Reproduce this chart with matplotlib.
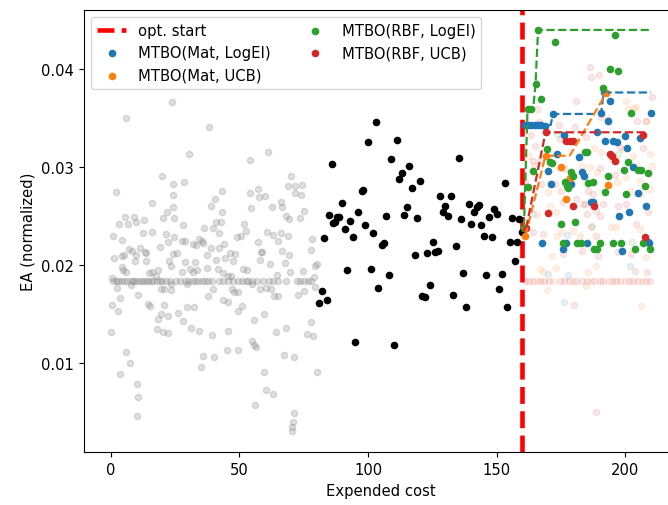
import matplotlib
matplotlib.use("Agg")
import matplotlib.pyplot as plt
import numpy as np

plt.rcParams["font.family"] = "DejaVu Sans"
plt.rcParams["font.size"] = 10.6

OPT_START = 160

# Initial design: cheap (low-fidelity) evaluations
init_low_pts = [
    (23.7, 0.03667), (5.8, 0.03497), (19.8, 0.02911), (24.3, 0.02827), (1.9, 0.02742), (24.3, 0.02714),
    (16.2, 0.02633), (24.0, 0.02589), (21.7, 0.02544), (5.5, 0.02487), (9.0, 0.02487), (3.2, 0.02418),
    (6.8, 0.02418), (9.7, 0.02442), (13.0, 0.02459), (20.4, 0.0248), (24.7, 0.02476), (1.0, 0.02293),
    (4.2, 0.02259), (12.7, 0.02327), (15.9, 0.0234), (21.3, 0.02313), (24.6, 0.02286), (22.1, 0.02231),
    (19.1, 0.02187), (7.2, 0.02163), (8.4, 0.02146), (11.2, 0.02173), (13.3, 0.0213), (9.9, 0.02105),
    (13.6, 0.0212), (1.4, 0.02068), (4.2, 0.02095), (5.0, 0.02102), (9.4, 0.02044), (13.6, 0.02044),
    (24.0, 0.02112), (22.6, 0.02041), (23.4, 0.01993), (4.2, 0.01976), (4.9, 0.01952), (5.8, 0.01925),
    (18.5, 0.01952), (14.9, 0.01918), (16.2, 0.01932), (17.4, 0.01891), (0.4, 0.01864), (7.9, 0.01796),
    (23.4, 0.01806), (2.3, 0.01762), (19.5, 0.01755), (20.8, 0.01755), (23.4, 0.01748), (3.5, 0.0166),
    (10.7, 0.01694), (0.6, 0.01592), (2.7, 0.01534), (14.3, 0.01602), (15.2, 0.01585), (20.8, 0.01592),
    (19.5, 0.015), (18.5, 0.01449), (22.1, 0.01483), (0.1, 0.0132), (17.8, 0.01347), (20.2, 0.0132),
    (22.4, 0.01303), (5.8, 0.01116), (7.5, 0.01), (3.6, 0.00884), (10.1, 0.00786), (10.7, 0.00656),
    (10.3, 0.00463),
    (38.3, 0.03411), (30.4, 0.0313), (54.1, 0.03071), (28.5, 0.02847), (43.1, 0.02758), (40.5, 0.02673),
    (38.8, 0.02599), (43.2, 0.02538), (28.2, 0.02408), (40.9, 0.02439), (42.7, 0.02439), (39.6, 0.02381),
    (36.2, 0.02374), (42.1, 0.02323), (51.8, 0.02418), (27.6, 0.02248), (28.8, 0.02248), (34.4, 0.02265),
    (35.3, 0.02248), (36.0, 0.02224), (31.8, 0.02214), (33.1, 0.02204), (38.8, 0.02177), (42.2, 0.0217),
    (44.0, 0.02214), (48.9, 0.02282), (50.5, 0.02299), (52.5, 0.0235), (25.6, 0.02122), (37.3, 0.02105),
    (46.3, 0.02122), (48.3, 0.02112), (40.9, 0.02054), (44.4, 0.02068), (47.4, 0.02044), (28.8, 0.02027),
    (32.7, 0.02027), (30.8, 0.01959), (31.8, 0.01925), (33.4, 0.01952), (37.5, 0.01969), (41.5, 0.01959),
    (27.8, 0.01932), (43.7, 0.01915), (45.7, 0.01891), (46.6, 0.01884), (51.3, 0.01959), (53.1, 0.01952),
    (29.5, 0.01806), (39.9, 0.01755), (47.0, 0.01755), (47.9, 0.01728), (49.3, 0.01728), (37.9, 0.01681),
    (43.5, 0.01646), (45.7, 0.01619), (50.9, 0.01579), (49.6, 0.01534), (29.5, 0.01568), (32.3, 0.01575),
    (26.3, 0.01507), (27.9, 0.01426), (31.0, 0.01354), (34.4, 0.01323), (39.5, 0.01286), (45.7, 0.0133),
    (45.0, 0.01133), (49.6, 0.01133), (36.0, 0.01075), (40.1, 0.01058), (35.1, 0.00963),
    (61.2, 0.0315), (70.0, 0.02905), (69.0, 0.02803), (71.8, 0.02809), (74.4, 0.02816), (71.6, 0.02735),
    (73.9, 0.02714), (57.3, 0.02776), (54.0, 0.02735), (57.6, 0.02691), (59.9, 0.027), (66.1, 0.0264),
    (66.7, 0.02589), (54.5, 0.02579), (62.8, 0.02589), (75.2, 0.02548), (68.0, 0.02503), (69.3, 0.02469),
    (73.5, 0.02476), (60.6, 0.02334), (63.2, 0.02306), (66.1, 0.02327), (68.7, 0.02299), (64.9, 0.02242),
    (57.3, 0.02231), (78.1, 0.02265), (58.4, 0.02136), (58.9, 0.0213), (66.7, 0.02146), (69.3, 0.02102),
    (77.8, 0.02156), (58.0, 0.02051), (62.0, 0.02013), (67.7, 0.0202), (79.4, 0.01993), (80.0, 0.0201),
    (69.8, 0.01932), (74.8, 0.01942), (64.5, 0.01898), (79.1, 0.01874), (55.0, 0.01806), (58.0, 0.01755),
    (60.2, 0.01762), (62.3, 0.01755), (79.4, 0.01772), (75.2, 0.01738), (72.9, 0.01694), (63.6, 0.01687),
    (65.1, 0.01681), (55.8, 0.01442), (59.7, 0.015), (77.8, 0.01415), (68.3, 0.01354), (64.1, 0.0132),
    (76.1, 0.01296), (78.7, 0.01272), (55.0, 0.01228), (55.8, 0.01184), (56.3, 0.0116), (67.4, 0.01085),
    (71.3, 0.01058), (80.0, 0.00911), (59.5, 0.00911), (60.2, 0.00728), (63.2, 0.00684), (56.0, 0.00575),
    (71.1, 0.0049), (70.9, 0.00395), (70.3, 0.00344), (70.3, 0.00309),
]

# Cheap evaluations that returned the fallback value
FALLBACK_EA = 0.0184
init_low_fallback_x = [
    0.9, 1.9, 2.7, 3.9, 5.2, 6.4, 7.9, 8.8, 9.6, 10.6, 11.8, 12.7, 13.8, 14.6, 15.5, 16.5, 17.8,
    19.0, 20.1, 21.3, 23.0, 25.5, 26.9, 28.8, 30.1, 31.4, 32.7, 34.0, 35.3, 36.6, 37.9, 39.2,
    42.2, 43.7, 45.7, 47.6, 49.6, 50.9, 52.5, 53.5, 55.0, 56.7, 59.3, 61.5, 63.2, 65.1, 68.3,
    72.2, 73.5, 75.2, 76.8, 77.8,
]

# Initial design: expensive (high-fidelity) evaluations
init_high_pts = [
    (103.0, 0.03462), (100.1, 0.03258), (111.1, 0.03272), (86.0, 0.03027), (109.0, 0.03082), (116.0, 0.03014),
    (113.2, 0.02939), (112.1, 0.02878), (120.1, 0.02857), (117.0, 0.02782), (135.2, 0.03095), (153.2, 0.02837),
    (97.5, 0.02759), (98.1, 0.02765), (90.0, 0.0263), (84.9, 0.02514), (87.8, 0.02486), (88.7, 0.02493),
    (87.1, 0.02436), (86.5, 0.02429), (93.0, 0.02445), (91.0, 0.02367), (94.0, 0.02289), (96.1, 0.02544),
    (99.0, 0.02408), (102.0, 0.02327), (105.3, 0.02207), (106.2, 0.02224), (107.1, 0.02497), (114.1, 0.0251),
    (115.0, 0.02592), (119.0, 0.02476), (128.0, 0.02707), (132.1, 0.02701), (130.0, 0.02605), (129.0, 0.02538),
    (131.2, 0.02503), (136.1, 0.02469), (139.1, 0.02622), (141.1, 0.02538), (142.2, 0.02589), (143.1, 0.02615),
    (140.1, 0.02418), (144.1, 0.02411), (147.1, 0.02493), (149.0, 0.02571), (150.2, 0.0252), (156.1, 0.02483),
    (158.7, 0.02469), (145.1, 0.02293), (148.1, 0.02283), (155.1, 0.02232), (158.0, 0.02238), (157.2, 0.02044),
    (125.1, 0.02232), (123.0, 0.02122), (126.0, 0.02136), (127.1, 0.02143), (118.1, 0.02105), (134.1, 0.02191),
    (83.0, 0.02272), (92.0, 0.01952), (101.0, 0.01959), (108.1, 0.01898), (137.0, 0.01918), (146.0, 0.01898),
    (152.1, 0.01911), (151.0, 0.01755), (104.0, 0.01765), (124.2, 0.01799), (133.1, 0.01691), (121.1, 0.01687),
    (122.1, 0.0167), (138.1, 0.01568), (154.1, 0.01575), (82.1, 0.01738), (84.1, 0.01643), (81.0, 0.01612),
    (95.1, 0.01214), (110.0, 0.01187), (159.9, 0.0234),
]

# Optimisation phase, expensive evaluations per method
mat_logei_high = [
    (160.9, 0.03429), (162.2, 0.03429), (163.5, 0.03429), (164.8, 0.03429), (166.1, 0.03429), (167.4, 0.03425),
    (168.7, 0.0342), (171.9, 0.03541), (176.0, 0.0333), (173.6, 0.03133), (169.8, 0.02962), (181.9, 0.03099),
    (183.0, 0.02946), (184.0, 0.02911), (171.0, 0.02827), (178.8, 0.02827), (167.7, 0.02224), (175.8, 0.02163),
    (177.1, 0.02224), (185.1, 0.02224), (209.1, 0.02224), (198.6, 0.02146), (190.6, 0.03548), (191.6, 0.0376),
    (194.2, 0.03677), (193.2, 0.03473), (210.0, 0.03548), (189.0, 0.03354), (192.1, 0.03268), (195.1, 0.03268),
    (196.8, 0.03258), (199.7, 0.03313), (200.7, 0.03191), (205.9, 0.03293), (202.9, 0.02997), (204.8, 0.02735),
    (186.5, 0.0264), (187.4, 0.0264), (208.1, 0.02599), (201.6, 0.02544), (197.7, 0.02497), (208.7, 0.02238),
]
mat_ucb_high = [
    (161.2, 0.0230), (169.0, 0.03115), (175.2, 0.0300), (178.4, 0.0289), (177.1, 0.0267), (192.5, 0.0375),
    (193.4, 0.0282),
]
rbf_logei_high = [
    (160.6, 0.0238), (166.1, 0.04398), (172.6, 0.04279), (165.1, 0.03847), (167.4, 0.03694), (162.0, 0.03592),
    (163.3, 0.03592), (169.4, 0.03184), (170.6, 0.03048), (171.5, 0.03041), (184.2, 0.03156), (185.3, 0.0315),
    (164.2, 0.02962), (178.8, 0.02952), (179.7, 0.02911), (176.5, 0.02844), (177.5, 0.02809), (177.8, 0.02783),
    (185.5, 0.02837), (162.2, 0.02793), (180.6, 0.02436), (174.9, 0.0242), (175.8, 0.02224), (181.3, 0.02224),
    (182.9, 0.02224), (190.1, 0.02224), (195.2, 0.02224), (198.5, 0.02224), (206.9, 0.02224), (187.9, 0.02163),
    (189.0, 0.02163), (203.7, 0.02163), (209.8, 0.02163), (196.0, 0.04347), (194.2, 0.04), (197.3, 0.03977),
    (191.2, 0.03803), (202.2, 0.03548), (199.4, 0.02973), (201.2, 0.03054), (204.8, 0.02973), (206.1, 0.02973),
    (208.7, 0.02939), (193.2, 0.02905), (207.7, 0.02809), (187.4, 0.02844), (192.1, 0.02748), (200.3, 0.02724),
]
rbf_ucb_high = [
    (161.5, 0.0238), (169.0, 0.03354), (177.1, 0.0327), (178.4, 0.03262), (179.5, 0.0327), (179.7, 0.02605),
    (170.0, 0.02531), (194.0, 0.03133), (195.0, 0.03115), (195.9, 0.03064), (188.0, 0.02599), (206.8, 0.0333),
    (207.7, 0.02283),
]

# Optimisation phase, cheap evaluations per method
mat_logei_low = [
    (170.0, 0.01908), (177.8, 0.01898), (202.0, 0.01987), (164.2, 0.0252), (177.4, 0.02306), (176.1, 0.01626),
]
mat_ucb_low = [
    (200.4, 0.03677), (204.1, 0.03609), (208.2, 0.03473), (162.6, 0.03115), (164.4, 0.0302), (187.7, 0.03191),
    (190.7, 0.0315), (194.6, 0.03082), (199.1, 0.03184), (203.0, 0.03115), (204.3, 0.03013), (209.5, 0.03133),
    (210.2, 0.03013), (183.0, 0.03013), (186.2, 0.02997), (189.0, 0.02946), (200.4, 0.02895), (205.6, 0.0286),
    (164.2, 0.02776), (170.0, 0.02748), (196.6, 0.02844), (201.7, 0.02758), (205.6, 0.02724), (209.5, 0.02776),
    (170.6, 0.02605), (173.2, 0.02538), (165.5, 0.0252), (194.6, 0.02384), (196.3, 0.02384), (173.5, 0.02299),
    (175.2, 0.0234), (179.5, 0.0235), (182.3, 0.02299), (205.6, 0.02367), (208.2, 0.02265), (171.7, 0.02089),
    (173.0, 0.01966), (166.8, 0.01959), (168.0, 0.01932), (208.0, 0.02078), (185.5, 0.01932), (188.5, 0.01993),
    (169.6, 0.01748), (184.6, 0.01783), (206.3, 0.01585), (201.0, 0.03592), (203.5, 0.03599),
]
rbf_logei_low = [
    (173.6, 0.03337), (197.3, 0.03133), (202.8, 0.02238), (187.2, 0.02395),
]
rbf_ucb_low = [
    (186.2, 0.0402), (186.5, 0.03915), (189.8, 0.03939), (181.0, 0.0367), (210.2, 0.03711), (165.7, 0.0359),
    (190.7, 0.03507), (193.3, 0.0349), (166.5, 0.03456), (174.3, 0.03429), (180.4, 0.03405), (174.5, 0.03286),
    (181.0, 0.03268), (184.9, 0.03303), (164.8, 0.03217), (163.5, 0.03327), (166.8, 0.03064), (170.6, 0.03048),
    (164.2, 0.0306), (174.5, 0.02987), (176.5, 0.0298), (197.8, 0.03201), (206.9, 0.03191), (190.1, 0.02987),
    (195.9, 0.02918), (160.9, 0.02844), (167.4, 0.02827), (172.6, 0.02827), (175.2, 0.02758), (185.5, 0.02758),
    (187.5, 0.02724), (181.0, 0.02673), (184.2, 0.02622), (175.8, 0.0264), (183.6, 0.02622), (191.4, 0.02622),
    (197.2, 0.02605), (200.4, 0.02622), (185.1, 0.0252), (188.8, 0.02554), (190.1, 0.02503), (164.2, 0.0234),
    (168.0, 0.02316), (186.8, 0.02384), (188.8, 0.02293), (204.3, 0.02418), (208.8, 0.02538), (175.8, 0.02112),
    (183.0, 0.02146), (189.4, 0.02095), (197.2, 0.0213), (202.4, 0.02112), (203.7, 0.01942), (208.6, 0.01932),
    (180.0, 0.01592), (188.5, 0.00503), (204.6, 0.03473), (208.1, 0.03473),
]
# Cheap evaluations at the fallback value during optimisation
rbf_ucb_fallback_x = [161.0, 162.5, 164.0, 167.0, 168.5, 170.5, 174.5, 176.0, 178.0, 181.0, 183.0, 185.0,
                      188.0, 190.0, 191.5, 195.0, 196.5, 198.0, 201.5, 203.0, 205.0, 208.0, 209.5]
mat_ucb_fallback_x = [165.5, 172.0, 179.5, 186.5, 193.5, 200.0, 206.5]

methods = [
    ("MTBO(Mat, LogEI)", "tab:blue", mat_logei_high, mat_logei_low, []),
    ("MTBO(Mat, UCB)", "tab:orange", mat_ucb_high, mat_ucb_low, mat_ucb_fallback_x),
    ("MTBO(RBF, LogEI)", "tab:green", rbf_logei_high, rbf_logei_low, []),
    ("MTBO(RBF, UCB)", "tab:red", rbf_ucb_high, rbf_ucb_low, rbf_ucb_fallback_x),
]


def xy(pts):
    a = np.array(pts, dtype=float)
    return a[:, 0], a[:, 1]


fig = plt.figure(figsize=(6.68, 5.06), dpi=100)
ax = fig.add_axes([0.1254, 0.1042, 0.8896, 0.8747])

start_line = ax.axvline(OPT_START, color="red", lw=3.3, ls="--", zorder=1.5, label="opt. start")

gx, gy = xy(init_low_pts)
ax.scatter(gx, gy, s=20, color="gray", alpha=0.25, zorder=2)
fbx = np.array(init_low_fallback_x)
ax.scatter(fbx, np.full_like(fbx, FALLBACK_EA), s=20, color="gray", alpha=0.25, zorder=2)

bx, by = xy(init_high_pts)
ax.scatter(bx, by, s=20, color="black", zorder=3)

handles = [start_line]
for label, color, high, low, fallback in methods:
    lx, ly = xy(low)
    ax.scatter(lx, ly, s=20, color=color, alpha=0.1, zorder=2)
    if fallback:
        fx = np.array(fallback)
        ax.scatter(fx, np.full_like(fx, FALLBACK_EA), s=20, color=color, alpha=0.1, zorder=2)

for label, color, high, low, fallback in methods:
    hx, hy = xy(high)
    order = np.argsort(hx)
    best = np.maximum.accumulate(hy[order])
    ax.plot(hx[order], best, ls="--", color=color, lw=1.6, zorder=4)
    h = ax.scatter(hx, hy, s=20, color=color, zorder=3, label=label)
    handles.append(h)

ax.set_xlim(-10.5, 220.5)
ax.set_ylim(0.00089, 0.04605)
ax.set_xticks([0, 50, 100, 150, 200])
ax.set_yticks([0.01, 0.02, 0.03, 0.04])
ax.set_xlabel("Expended cost")
ax.set_ylabel("EA (normalized)")

ax.legend(handles=handles, loc="upper left", ncol=2)

fig.savefig("out.png", dpi=100)
